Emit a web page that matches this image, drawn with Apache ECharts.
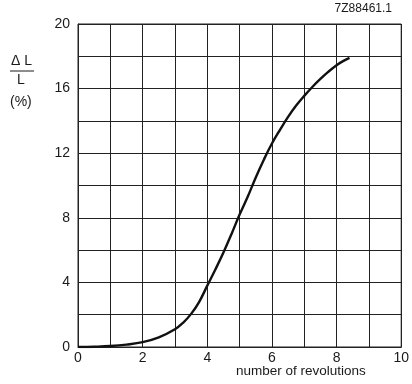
<!DOCTYPE html>
<html><head><meta charset="utf-8">
<script src="https://cdn.jsdelivr.net/npm/echarts@6/dist/echarts.min.js"></script>
<style>html,body{margin:0;padding:0;background:#fff}#c{width:412px;height:384px}</style>
</head><body><div id="c"></div>
<script>
var revolutions = [0, 0.5, 1, 1.5, 2, 2.5, 3, 3.25, 3.5, 3.75, 4, 4.25, 4.5, 4.75, 5, 5.25, 5.5, 5.75, 6, 6.25, 6.5, 6.75, 7, 7.25, 7.5, 7.75, 8, 8.2, 8.4];
var elongation = [0, 0.02, 0.06, 0.15, 0.3, 0.6, 1.1, 1.5, 2.05, 2.8, 3.8, 4.8, 5.85, 7.0, 8.2, 9.3, 10.5, 11.6, 12.6, 13.45, 14.25, 14.95, 15.55, 16.1, 16.6, 17.05, 17.45, 17.7, 17.9];
var xLabels = [0, 2, 4, 6, 8, 10];
var yLabels = [0, 4, 8, 12, 16, 20];
var figureCode = '7Z88461.1';
var xTitle = 'number of revolutions';

var chart = echarts.init(document.getElementById('c'), null, {renderer: 'canvas'});
var font = 'Liberation Sans, Arial, sans-serif';
var ink = '#1a1a1a';
chart.setOption({
  animation: false,
  backgroundColor: '#fff',
  grid: {left: 78, right: 10, top: 24, bottom: 37, show: true, borderColor: '#222', borderWidth: 1},
  xAxis: {
    type: 'value', min: 0, max: 10, interval: 1,
    axisLine: {show: true, lineStyle: {color: '#222', width: 1}},
    axisTick: {show: false},
    splitLine: {show: true, lineStyle: {color: '#222', width: 1}},
    axisLabel: {
      color: ink, fontFamily: font, fontSize: 14, margin: 4, showMinLabel: true, showMaxLabel: true,
      formatter: function (v) { return xLabels.indexOf(v) >= 0 ? String(v) : ''; }
    }
  },
  yAxis: {
    type: 'value', min: 0, max: 20, interval: 2,
    axisLine: {show: true, lineStyle: {color: '#222', width: 1}},
    axisTick: {show: false},
    splitLine: {show: true, lineStyle: {color: '#222', width: 1}},
    axisLabel: {
      color: ink, fontFamily: font, fontSize: 14, margin: 8,
      formatter: function (v) { return yLabels.indexOf(v) >= 0 ? String(v) : ''; }
    }
  },
  series: [{
    type: 'line', smooth: 0.4, symbol: 'none',
    data: revolutions.map(function (x, i) { return [x, elongation[i]]; }),
    lineStyle: {color: '#111', width: 2.4}
  }],
  graphic: [
    {type: 'text', right: 20, top: 3, style: {text: figureCode, font: '12px ' + font, fill: ink}},
    {type: 'text', left: 11, top: 54, style: {text: '\u0394 L', font: '14px ' + font, fill: ink}},
    {type: 'line', shape: {x1: 10, y1: 71, x2: 34, y2: 71}, style: {stroke: ink, lineWidth: 1}},
    {type: 'text', left: 17, top: 73, style: {text: 'L', font: '14px ' + font, fill: ink}},
    {type: 'text', left: 10, top: 95, style: {text: '(%)', font: '14px ' + font, fill: ink}},
    {type: 'text', left: 236, top: 364, style: {text: xTitle, font: '13.5px ' + font, fill: ink}}
  ]
});
</script>
</body></html>
